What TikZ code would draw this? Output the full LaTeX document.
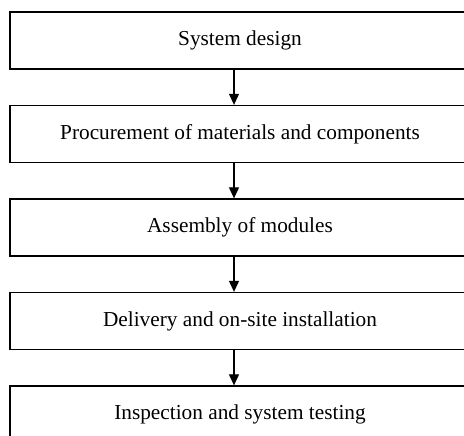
\documentclass[tikz,border=0pt]{standalone}
\usepackage{fontspec}
\setmainfont{Liberation Serif}
\usetikzlibrary{arrows.meta}
\begin{document}
\begin{tikzpicture}[x=1pt,y=-1pt,
  stagebox/.style={draw, line width=1.3pt, minimum width=460pt, minimum height=57pt,
    inner sep=0pt, font=\fontsize{21.3}{25}\selectfont, anchor=center},
  flowarrow/.style={line width=1.1pt, -{Triangle[length=11pt,width=10pt]}}]
  \useasboundingbox (0,0) rectangle (464,436);
  \clip (0,0) rectangle (464,436);
  \fill[white] (0,0) rectangle (464,436);
  \coordinate (ax) at (234,0);
  \node[stagebox] (b1) at (240,40.5) {System design};
  \node[stagebox] (b2) at (240,134) {Procurement of materials and components};
  \node[stagebox] (b3) at (240,227.5) {Assembly of modules};
  \node[stagebox] (b4) at (240,321) {Delivery and on-site installation};
  \node[stagebox] (b5) at (240,414.5) {Inspection and system testing};
  \draw[flowarrow] (b1.south -| ax) -- (b2.north -| ax);
  \draw[flowarrow] (b2.south -| ax) -- (b3.north -| ax);
  \draw[flowarrow] (b3.south -| ax) -- (b4.north -| ax);
  \draw[flowarrow] (b4.south -| ax) -- (b5.north -| ax);
\end{tikzpicture}
\end{document}
